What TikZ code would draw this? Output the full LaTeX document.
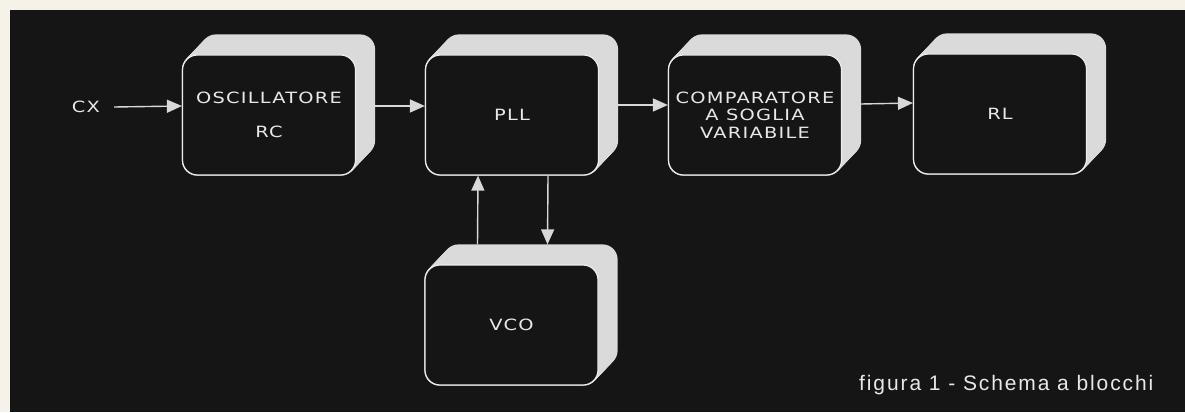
\documentclass[tikz,border=0pt]{standalone}
\usepackage{fontspec}
\setmainfont{DejaVu Sans}
\newfontfamily\blkfam[LetterSpace=8,FakeStretch=1.25]{DejaVu Sans}
\newfontfamily\capfam[LetterSpace=9]{Liberation Sans}
\usetikzlibrary{arrows.meta,backgrounds}
\definecolor{bg}{HTML}{151515}
\definecolor{margin}{HTML}{F6F2E9}
\definecolor{ext}{HTML}{DADADA}
\definecolor{boxline}{HTML}{EDEDED}
\definecolor{arrline}{HTML}{D8D8D8}
\definecolor{txt}{HTML}{E8E8E8}
\tikzset{
  blk/.style={draw=boxline, line width=1.2pt, fill=bg, rounded corners=15pt,
    minimum width=173pt, minimum height=120pt, inner sep=0pt, align=center,
    text=txt, font=\blkfam\fontsize{15.5}{17.5}\selectfont},
  lbl/.style={text=txt, font=\blkfam\fontsize{15.5}{17.5}\selectfont, inner sep=0pt},
  arr/.style={draw=arrline, line width=1.4pt, -{Triangle[length=15pt,width=13pt]}},
  extr/.style={fill=ext, rounded corners=15pt},
}
\newcommand\extrude[1]{%
  \foreach \t in {0,1,...,20}{%
    \fill[extr] ([xshift={0.95*\t}, yshift={\t}]#1.south west) rectangle ([xshift={0.95*\t}, yshift={\t}]#1.north east);
  }%
}
\begin{document}
\begin{tikzpicture}[x=1pt,y=-1pt]
\useasboundingbox (0,0) rectangle (1185,412);
% blocks
\node[blk] (osc) at (269,115) {OSCILLATORE\\[17pt]RC};
\node[blk] (pll) at (512,115) {PLL};
\node[blk] (cmp) at (755,115) {\raisebox{-2pt}{\parbox{170pt}{\centering COMPARATORE\\A SOGLIA\\VARIABILE}}};
\node[blk] (rl) at (1000,114) {RL};
\node[blk] (vco) at (511.5,325) {VCO};
\node[lbl] (cx) at (86,107) {CX};
\node[text=txt, font=\capfam\fontsize{21}{24}\selectfont, inner sep=0pt, anchor=base west] (cap) at (859,390) {figura 1 - Schema a blocchi};
% background and extrusions
\begin{scope}[on background layer]
  \fill[margin] (0,0) rectangle (1185,412);
  \fill[bg] (10,10) rectangle (1185,412);
  \extrude{osc}
  \extrude{pll}
  \extrude{cmp}
  \extrude{rl}
  \extrude{vco}
\end{scope}
% connectors
\draw[arr] ([xshift=14pt]cx.east) -- ([yshift=9pt]osc.west);
\draw[arr] ([xshift=19pt, yshift=9pt]osc.east) -- ([yshift=9pt]pll.west);
\draw[arr] ([xshift=19pt, yshift=10pt]pll.east) -- ([yshift=10pt]cmp.west);
\draw[arr] ([xshift=19pt, yshift=11pt]cmp.east) -- ([yshift=11pt]rl.west);
\draw[arr] ([xshift=-34pt, yshift=20pt]vco.north) -- ([xshift=-34pt]pll.south);
\draw[arr] ([xshift=36pt]pll.south) -- ([xshift=36pt, yshift=20pt]vco.north);
\end{tikzpicture}
\end{document}
